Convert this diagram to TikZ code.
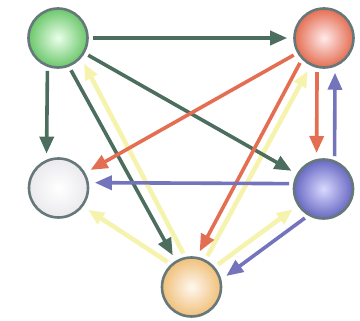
\documentclass[tikz,border=0pt]{standalone}
\usetikzlibrary{arrows.meta}
\definecolor{ringgray}{HTML}{66787A}
\definecolor{lnkgreen}{HTML}{4C6E5E}
\definecolor{lnkred}{HTML}{E46E52}
\definecolor{lnkblue}{HTML}{7474BC}
\definecolor{lnkyellow}{HTML}{F6F3AE}
\definecolor{ballorange}{HTML}{F0C07A}
\tikzset{
  ball/.style={circle, minimum size=59pt, inner sep=0pt, draw=ringgray, line width=2.6pt},
  link/.style={line width=3.6pt, -{Triangle[length=17pt,width=14pt]}, shorten <=4pt, shorten >=6pt},
  hint/.style={link, line width=4.6pt, draw=lnkyellow, -{Triangle[length=16pt,width=13pt]}}
}
\begin{document}
\begin{tikzpicture}[x=1pt,y=-1pt]
\useasboundingbox (0,0) rectangle (360,321);
% the five balls
\node [ball, inner color=green!8!white, outer color=green!45!gray!80] (g) at (58,38) {};
\node [ball, inner color=red!8!white, outer color=lnkred] (r) at (324,38) {};
\node [ball, inner color=white, outer color=blue!10!gray!15] (w) at (58.5,188) {};
\node [ball, inner color=blue!15!white, outer color=lnkblue!90!blue] (p) at (323.5,189) {};
\node [ball, inner color=orange!6!white, outer color=ballorange] (o) at (191.5,287) {};
% yellow links out of the bottom ball
\draw [hint] (o.102) -- (g.-41);
\draw [hint] (o.63) -- (r.244);
\draw [hint] (o.132) -- (w.-37);
\draw [hint] (o.41) -- (p.213);
% green links
\draw [link, lnkgreen] (g) -- (r);
\draw [link, lnkgreen] (g.250) -- (w.113);
\draw [link, lnkgreen] (g) -- (p);
\draw [link, lnkgreen] (g.-69) -- (o.121);
% red links
\draw [link, lnkred] (r) -- (w);
\draw [link, lnkred] (r.224) -- (o.80);
\draw [link, lnkred] (r.257) -- (p.103);
% blue links
\draw [link, lnkblue] (p.69) -- (r.291);
\draw [link, lnkblue] (p.170) -- (w.10);
\draw [link, lnkblue] (p.240) -- (o.14);
\end{tikzpicture}
\end{document}
